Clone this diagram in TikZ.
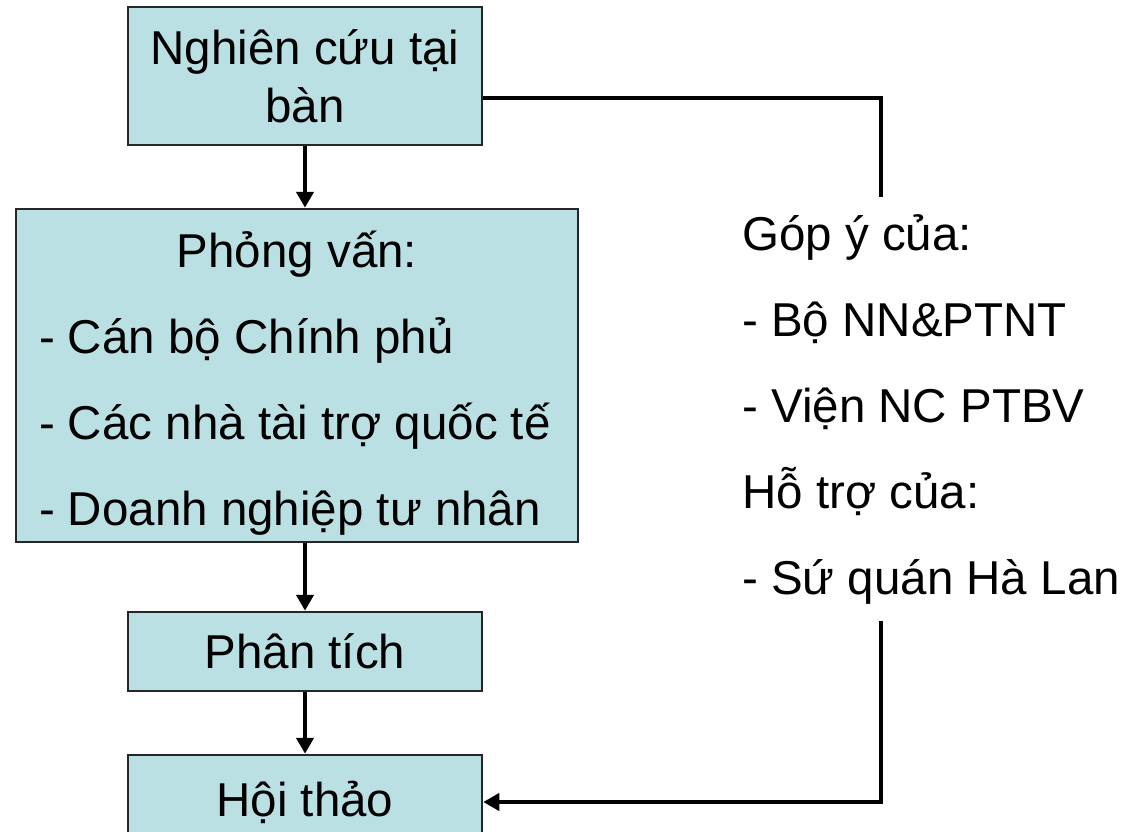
\documentclass[tikz,border=0pt]{standalone}
\usepackage{fontspec}
\setmainfont{Liberation Sans}
\usetikzlibrary{arrows.meta}
\definecolor{boxfill}{RGB}{186,224,227}
\begin{document}
\begin{tikzpicture}[x=1pt,y=-1pt]
	\tikzstyle{stage}=[rectangle,draw=black!85,line width=2.5pt,fill=boxfill,minimum width=354pt,align=center,inner sep=0pt,font=\fontsize{47.5}{58}\selectfont]
	\tikzstyle{edge}=[draw,line width=4pt,-{Triangle[length=16pt,width=17pt]}]
	\tikzstyle{link}=[draw,line width=4pt]
	\useasboundingbox (0,0) rectangle (1126,831);
	\begin{scope}
		\node [stage,minimum height=138pt] (desk) at (305,76) {Nghiên cứu tại\\bàn};
		\node [stage,minimum width=562pt,minimum height=333pt,align=left,font=\fontsize{47.5}{86}\selectfont] (interview) at (297,375.5) {\rule{0pt}{52pt}\makebox[516pt]{Phỏng vấn:}\\- Cán bộ Chính phủ\\- Các nhà tài trợ quốc tế\\- Doanh nghiệp tư nhân};
		\node [stage,minimum height=79pt] (analysis) at (305,651.5) {Phân tích};
		\node [stage,minimum height=94pt] (workshop) at (305,802) {Hội thảo};
		\node [anchor=north west,align=left,inner xsep=12pt,inner ysep=17pt,font=\fontsize{47.5}{86}\selectfont] (notes) at (730,197) {Góp ý của:\\- Bộ NN\&PTNT\\- Viện NC PTBV\\Hỗ trợ của:\\- Sứ quán Hà Lan};
		\coordinate (turn) at (881,98);
		\path[edge] (desk.south) -- (desk.south |- interview.north);
		\path[edge] (analysis.north |- interview.south) -- (analysis.north);
		\path[edge] (analysis.south) -- (workshop.north);
		\path[link] (desk.east |- turn) -- (turn) -- (turn |- notes.north);
		\path[edge] (turn |- notes.south) |- (workshop.east);
	\end{scope}
\end{tikzpicture}
\end{document}
